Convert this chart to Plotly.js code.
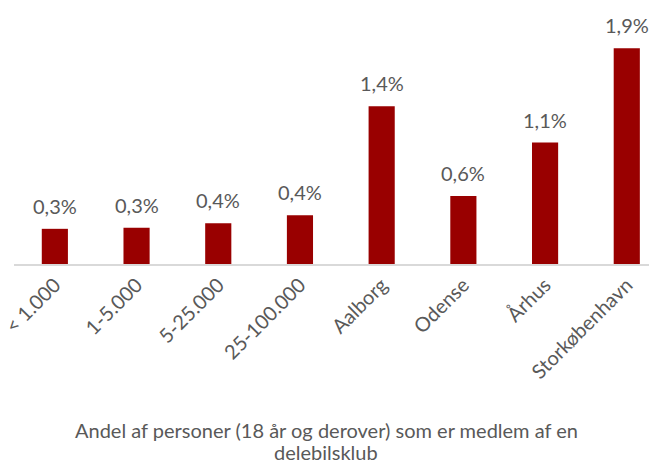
<!DOCTYPE html>
<html>
<head>
<meta charset="utf-8">
<script src="https://cdn.plot.ly/plotly-3.0.1.min.js"></script>
<style>html,body{margin:0;padding:0;background:#fff;}#chart{width:649px;height:464px;}</style>
</head>
<body>
<div id="chart"></div>
<script>
const categories = ['< 1.000', '1-5.000', '5-25.000', '25-100.000', 'Aalborg', 'Odense', 'Århus', 'Storkøbenhavn'];
const values = [0.31, 0.32, 0.36, 0.43, 1.39, 0.60, 1.07, 1.90];
const valueLabels = ['0,3%', '0,3%', '0,4%', '0,4%', '1,4%', '0,6%', '1,1%', '1,9%'];
const titleLines = ['Andel af personer (18 år og derover) som er medlem af en', 'delebilsklub'];

const textColor = '#595959';
const fontFamily = 'Lato, "Open Sans", sans-serif';

const trace = {
  type: 'bar',
  x: categories,
  y: values,
  width: 0.32,
  marker: {color: '#990000'},
  hoverinfo: 'skip'
};

const annotations = categories.map((c, i) => ({
  x: c, y: values[i], xref: 'x', yref: 'y',
  text: valueLabels[i], showarrow: false,
  yanchor: 'middle', yshift: 23,
  font: {family: fontFamily, size: 20, color: textColor}
}));

const titleY = [-0.680, -0.772];
titleLines.forEach((t, i) => annotations.push({
  x: 0.4915, xref: 'paper', xanchor: 'center',
  y: titleY[i], yref: 'paper', yanchor: 'middle',
  text: t, showarrow: false,
  font: {family: fontFamily, size: 20, color: textColor}
}));

const layout = {
  width: 649, height: 464,
  margin: {l: 14, r: 0, t: 20, b: 200},
  paper_bgcolor: '#fff', plot_bgcolor: '#fff',
  showlegend: false,
  xaxis: {
    type: 'category',
    range: [-0.5, 7.272],
    tickangle: -45,
    tickfont: {family: fontFamily, size: 20, color: textColor},
    showline: true, linecolor: '#d9d9d9', linewidth: 1.5,
    ticks: '', showgrid: false, zeroline: false,
    automargin: false
  },
  yaxis: {
    range: [0, 2.15],
    visible: false,
    showgrid: false, zeroline: false
  },
  annotations: annotations
};

Plotly.newPlot('chart', [trace], layout, {displayModeBar: false, staticPlot: true});
</script>
</body>
</html>
